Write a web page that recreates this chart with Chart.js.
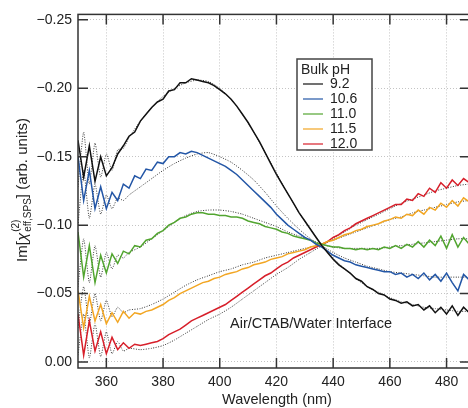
<!DOCTYPE html>
<html>
<head>
<meta charset="utf-8">
<script src="https://cdn.jsdelivr.net/npm/chart.js@4.4.1/dist/chart.umd.min.js"></script>
<style>
    html, body { margin: 0; padding: 0; overflow: hidden; background: #fff; }
    #wrap { width: 480px; height: 408px; }
</style>
</head>
<body>
<div id="wrap"><canvas id="chart" width="480" height="408"></canvas></div>
<script>
// measured spectra, 2 nm steps
const wavelength = [350,352,354,356,358,360,362,364,366,368,370,372,374,376,378,380,382,384,386,388,
    390,392,394,396,398,400,402,404,406,408,410,412,414,416,418,420,422,424,426,428,
    430,432,434,436,438,440,442,444,446,448,450,452,454,456,458,460,462,464,466,468,
    470,472,474,476,478,480,482,484,486,488];

const ph92 = [-0.162,-0.135,-0.158,-0.132,-0.150,-0.136,-0.142,-0.152,-0.158,-0.165,
    -0.168,-0.176,-0.181,-0.186,-0.190,-0.192,-0.198,-0.199,-0.204,-0.204,
    -0.207,-0.206,-0.205,-0.204,-0.202,-0.199,-0.196,-0.192,-0.187,-0.181,
    -0.175,-0.168,-0.161,-0.153,-0.145,-0.137,-0.130,-0.123,-0.116,-0.109,
    -0.103,-0.097,-0.091,-0.085,-0.080,-0.075,-0.071,-0.068,-0.065,-0.061,
    -0.059,-0.055,-0.053,-0.050,-0.049,-0.046,-0.045,-0.043,-0.044,-0.041,
    -0.042,-0.038,-0.041,-0.036,-0.040,-0.035,-0.041,-0.034,-0.040,-0.036];

const ph106 = [-0.150,-0.118,-0.140,-0.112,-0.128,-0.112,-0.124,-0.118,-0.130,-0.127,
    -0.136,-0.134,-0.141,-0.140,-0.146,-0.145,-0.150,-0.150,-0.153,-0.152,
    -0.154,-0.153,-0.151,-0.149,-0.147,-0.145,-0.143,-0.140,-0.137,-0.133,
    -0.129,-0.125,-0.121,-0.117,-0.113,-0.108,-0.104,-0.100,-0.097,-0.094,
    -0.091,-0.089,-0.086,-0.084,-0.081,-0.078,-0.076,-0.074,-0.073,-0.071,
    -0.070,-0.069,-0.068,-0.067,-0.066,-0.066,-0.064,-0.065,-0.062,-0.064,
    -0.061,-0.065,-0.060,-0.064,-0.059,-0.065,-0.058,-0.052,-0.064,-0.060];

const ph110 = [-0.095,-0.062,-0.085,-0.058,-0.078,-0.065,-0.079,-0.072,-0.081,-0.079,
    -0.085,-0.084,-0.089,-0.090,-0.094,-0.096,-0.100,-0.102,-0.105,-0.106,
    -0.108,-0.109,-0.109,-0.108,-0.108,-0.107,-0.107,-0.106,-0.106,-0.105,
    -0.103,-0.102,-0.101,-0.099,-0.098,-0.097,-0.095,-0.094,-0.092,-0.091,
    -0.090,-0.089,-0.087,-0.086,-0.085,-0.084,-0.084,-0.083,-0.083,-0.082,
    -0.083,-0.082,-0.083,-0.082,-0.084,-0.083,-0.085,-0.083,-0.086,-0.084,
    -0.088,-0.084,-0.089,-0.085,-0.092,-0.083,-0.093,-0.084,-0.091,-0.086];

const ph115 = [-0.052,-0.025,-0.048,-0.030,-0.042,-0.028,-0.036,-0.029,-0.037,-0.032,
    -0.036,-0.035,-0.037,-0.038,-0.040,-0.042,-0.045,-0.047,-0.050,-0.052,
    -0.054,-0.056,-0.058,-0.059,-0.061,-0.062,-0.064,-0.065,-0.066,-0.068,
    -0.069,-0.071,-0.072,-0.073,-0.075,-0.076,-0.077,-0.079,-0.080,-0.081,
    -0.082,-0.084,-0.085,-0.086,-0.088,-0.089,-0.091,-0.093,-0.094,-0.096,
    -0.097,-0.099,-0.100,-0.101,-0.103,-0.104,-0.106,-0.105,-0.108,-0.107,
    -0.111,-0.108,-0.113,-0.111,-0.116,-0.113,-0.118,-0.114,-0.120,-0.117];

const ph120 = [-0.035,-0.005,-0.030,-0.008,-0.022,-0.006,-0.018,-0.009,-0.014,-0.010,
    -0.013,-0.012,-0.013,-0.014,-0.015,-0.017,-0.020,-0.022,-0.024,-0.027,
    -0.030,-0.032,-0.034,-0.036,-0.038,-0.040,-0.042,-0.045,-0.048,-0.051,
    -0.054,-0.057,-0.060,-0.063,-0.065,-0.068,-0.071,-0.073,-0.076,-0.078,
    -0.080,-0.082,-0.084,-0.086,-0.088,-0.091,-0.093,-0.096,-0.098,-0.101,
    -0.103,-0.105,-0.107,-0.109,-0.111,-0.113,-0.115,-0.115,-0.119,-0.118,
    -0.123,-0.121,-0.127,-0.124,-0.131,-0.127,-0.133,-0.129,-0.134,-0.131];

// fitted curves (dotted)
const fitWavelength = [350,352,354,356,358,360,362,364,366,368,372,376,380,384,388,392,396,400,404,408,
    412,416,420,424,428,432,436,440,444,448,452,456,460,464,468,472,476,480,484,488];

const fit92 = [-0.128,-0.168,-0.130,-0.160,-0.135,-0.152,-0.140,-0.155,-0.156,-0.164,
    -0.176,-0.186,-0.194,-0.200,-0.204,-0.206,-0.205,-0.200,-0.192,-0.181,
    -0.168,-0.153,-0.138,-0.123,-0.109,-0.097,-0.086,-0.076,-0.068,-0.061,
    -0.055,-0.051,-0.047,-0.044,-0.042,-0.040,-0.039,-0.038,-0.037,-0.037];

const fit106 = [-0.100,-0.140,-0.105,-0.130,-0.108,-0.122,-0.112,-0.120,-0.118,-0.122,
    -0.128,-0.134,-0.140,-0.145,-0.149,-0.152,-0.153,-0.150,-0.146,-0.140,
    -0.133,-0.124,-0.114,-0.105,-0.097,-0.090,-0.085,-0.080,-0.076,-0.073,
    -0.070,-0.068,-0.066,-0.065,-0.064,-0.063,-0.062,-0.062,-0.062,-0.062];

const fit110 = [-0.055,-0.090,-0.058,-0.085,-0.062,-0.080,-0.068,-0.078,-0.076,-0.080,
    -0.084,-0.090,-0.096,-0.102,-0.107,-0.110,-0.111,-0.111,-0.110,-0.108,
    -0.105,-0.102,-0.099,-0.095,-0.092,-0.089,-0.086,-0.084,-0.083,-0.083,
    -0.083,-0.083,-0.084,-0.085,-0.086,-0.087,-0.088,-0.089,-0.090,-0.090];

const fit115 = [-0.025,-0.055,-0.028,-0.050,-0.030,-0.045,-0.033,-0.040,-0.036,-0.038,
    -0.039,-0.042,-0.046,-0.051,-0.056,-0.060,-0.063,-0.066,-0.068,-0.071,
    -0.073,-0.076,-0.078,-0.080,-0.082,-0.084,-0.086,-0.089,-0.092,-0.095,
    -0.098,-0.101,-0.104,-0.106,-0.109,-0.111,-0.113,-0.115,-0.117,-0.118];

const fit120 = [-0.005,-0.035,-0.003,-0.028,-0.004,-0.022,-0.006,-0.015,-0.008,-0.010,
    -0.009,-0.010,-0.012,-0.016,-0.021,-0.026,-0.031,-0.035,-0.040,-0.046,
    -0.052,-0.058,-0.064,-0.069,-0.075,-0.080,-0.085,-0.090,-0.095,-0.100,
    -0.104,-0.108,-0.112,-0.116,-0.119,-0.122,-0.125,-0.127,-0.129,-0.130];

const seriesLabels = ['9.2', '10.6', '11.0', '11.5', '12.0'];
const seriesColors = ['#111111', '#2356a6', '#52a530', '#f2a623', '#d71f2a'];
const xTicks = [360, 380, 400, 420, 440, 460, 480];
const yTicks = [0, -0.05, -0.10, -0.15, -0.20, -0.25];

const FONT = '"Liberation Sans", Arial, sans-serif';

function toPoints(xs, ys) {
    return xs.map((x, i) => ({ x: x, y: ys[i] }));
}

const measured = [ph92, ph106, ph110, ph115, ph120];
const fits = [fit92, fit106, fit110, fit115, fit120];

const datasets = [];
measured.forEach((values, i) => {
    datasets.push({
        label: seriesLabels[i],
        data: toPoints(wavelength, values),
        borderColor: seriesColors[i],
        borderWidth: 1.5,
        pointRadius: 0,
        showLine: true,
        tension: 0
    });
});
fits.forEach((values, i) => {
    datasets.push({
        label: 'fit ' + seriesLabels[i],
        data: toPoints(fitWavelength, values),
        borderColor: '#3a3a3a',
        borderWidth: 1,
        borderDash: [1, 1.5],
        pointRadius: 0,
        showLine: true,
        tension: 0.2
    });
});

function drawYTitle(ctx, cx, cy) {
    ctx.save();
    ctx.translate(cx, cy);
    ctx.rotate(-Math.PI / 2);
    const big = '15px ' + FONT;
    const ital = 'italic 15px ' + FONT;
    const small = '10px ' + FONT;
    ctx.font = big;
    const w1 = ctx.measureText('Im[').width;
    const w4 = ctx.measureText('] (arb. units)').width;
    ctx.font = ital;
    const w2 = ctx.measureText('\u03c7').width;
    ctx.font = small;
    const w3 = Math.max(ctx.measureText('(2)').width, ctx.measureText('eff,SPS').width);
    const total = w1 + w2 + 1 + w3 + w4;
    let x0 = -total / 2;
    const base = 5;
    ctx.fillStyle = '#222';
    ctx.textAlign = 'left';
    ctx.textBaseline = 'alphabetic';
    ctx.font = big;
    ctx.fillText('Im[', x0, base);
    x0 += w1;
    ctx.font = ital;
    ctx.fillText('\u03c7', x0, base);
    x0 += w2 + 1;
    ctx.font = small;
    ctx.fillText('(2)', x0, base - 8);
    ctx.fillText('eff,SPS', x0, base + 4);
    x0 += w3;
    ctx.font = big;
    ctx.fillText('] (arb. units)', x0, base);
    ctx.restore();
}

const decorations = {
    id: 'decorations',
    afterDraw(chart) {
        const { ctx, chartArea: a, scales: { x, y } } = chart;
        ctx.save();

        // frame and inward ticks
        ctx.strokeStyle = '#333';
        ctx.lineWidth = 1.5;
        ctx.strokeRect(a.left, a.top, a.right - a.left, a.bottom - a.top);
        ctx.beginPath();
        xTicks.forEach(v => {
            const px = x.getPixelForValue(v);
            ctx.moveTo(px, a.bottom);
            ctx.lineTo(px, a.bottom - 10);
            ctx.moveTo(px, a.top);
            ctx.lineTo(px, a.top + 10);
        });
        yTicks.forEach(v => {
            const py = y.getPixelForValue(v);
            ctx.moveTo(a.left, py);
            ctx.lineTo(a.left + 10, py);
            ctx.moveTo(a.right, py);
            ctx.lineTo(a.right - 10, py);
        });
        ctx.stroke();

        // axis titles
        ctx.fillStyle = '#222';
        ctx.font = '14.5px ' + FONT;
        ctx.textAlign = 'center';
        ctx.textBaseline = 'alphabetic';
        ctx.fillText('Wavelength (nm)', 277, 404);
        drawYTitle(ctx, 22, 190);

        // note
        ctx.textAlign = 'left';
        ctx.fillText('Air/CTAB/Water Interface', 230, 328);

        // legend
        const lx = 297, ly = 59, lw = 75, lh = 91;
        ctx.fillStyle = '#fff';
        ctx.fillRect(lx, ly, lw, lh);
        ctx.strokeStyle = '#444';
        ctx.lineWidth = 1.5;
        ctx.strokeRect(lx, ly, lw, lh);
        ctx.fillStyle = '#222';
        ctx.font = '14px ' + FONT;
        ctx.textBaseline = 'middle';
        ctx.fillText('Bulk pH', lx + 4, ly + 11);
        seriesLabels.forEach((label, i) => {
            const ey = ly + 25 + i * 15;
            ctx.strokeStyle = seriesColors[i];
            ctx.lineWidth = 1.2;
            ctx.beginPath();
            ctx.moveTo(lx + 6, ey);
            ctx.lineTo(lx + 26, ey);
            ctx.stroke();
            ctx.fillStyle = '#222';
            ctx.fillText(label, lx + 33, ey);
        });

        ctx.restore();
    }
};

new Chart(document.getElementById('chart'), {
    type: 'scatter',
    data: { datasets: datasets },
    options: {
        responsive: false,
        animation: false,
        layout: { padding: { top: 14, right: 10, left: 0, bottom: 0 } },
        plugins: {
            legend: { display: false },
            tooltip: { enabled: false }
        },
        scales: {
            x: {
                type: 'linear',
                min: 350,
                max: 488.27,
                afterBuildTicks: s => { s.ticks = xTicks.map(v => ({ value: v })); },
                afterFit: s => { s.height = 40; },
                grid: { color: '#c4c4c4', lineWidth: 1, drawTicks: false },
                border: { display: false, dash: [1, 2] },
                ticks: {
                    padding: 6,
                    color: '#222',
                    font: { family: FONT, size: 14 },
                    maxRotation: 0,
                    autoSkip: false
                }
            },
            y: {
                reverse: true,
                min: -0.254,
                max: 0.0044,
                afterBuildTicks: s => { s.ticks = yTicks.map(v => ({ value: v })); },
                afterFit: s => { s.width = 78; },
                grid: { color: '#c4c4c4', lineWidth: 1, drawTicks: false },
                border: { display: false, dash: [1, 2] },
                ticks: {
                    padding: 6,
                    color: '#222',
                    font: { family: FONT, size: 14 },
                    autoSkip: false,
                    callback: v => (v < -1e-9 ? '\u2212' : '') + Math.abs(v).toFixed(2)
                }
            }
        }
    },
    plugins: [decorations]
});
</script>
</body>
</html>
